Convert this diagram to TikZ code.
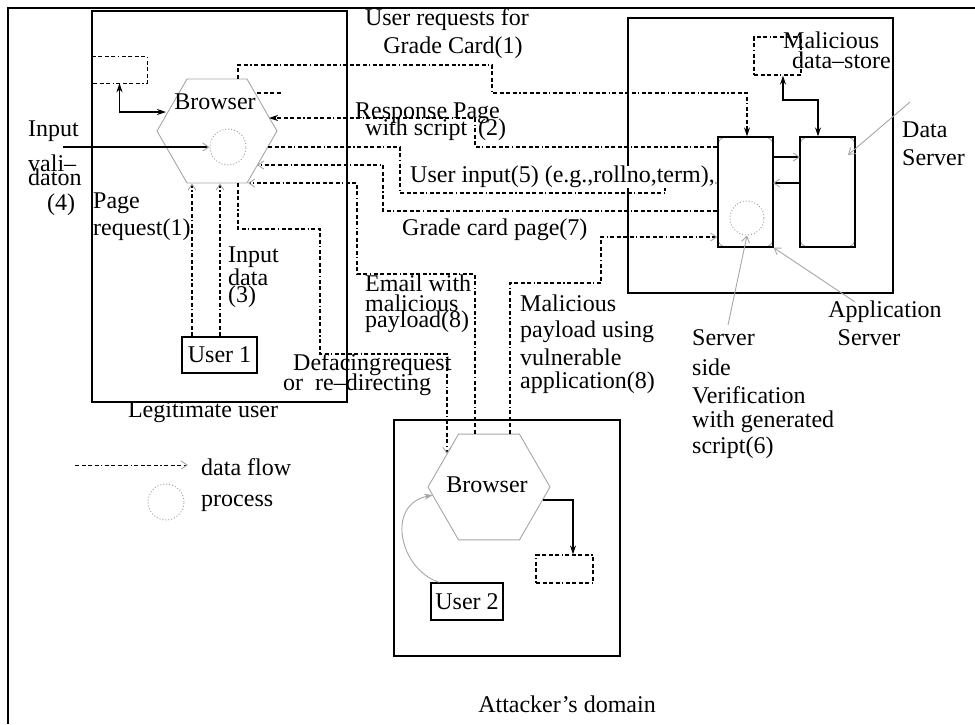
\documentclass[tikz,border=0pt]{standalone}
\usepackage{fontspec}
\setmainfont{Liberation Serif}
\usetikzlibrary{arrows.meta,shapes.geometric}
\begin{document}
\begin{tikzpicture}[x=1pt,y=-1pt,
  every node/.style={font=\fontsize{24}{27}\selectfont, inner sep=0pt},
  box/.style={draw, line width=1.3pt, rectangle},
  hexa/.style={draw=gray!70, line width=0.9pt, regular polygon, regular polygon sides=6, minimum size=#1},
  proc/.style={draw=gray!70, dotted, line width=1pt, circle, minimum size=36pt},
  flow/.style={line width=1.2pt, dash pattern=on 4pt off 2.5pt on 4pt off 2.5pt on 4pt off 2.5pt on 4pt off 2.5pt on 1.2pt off 2.5pt},
  barb/.style={-{Straight Barb[length=6pt,width=8pt,color=gray!70,line width=0.9pt]}},
  blk/.style={-{Stealth[length=9pt,width=6pt]}},
  pointer/.style={draw=gray!70, line width=0.9pt, -{Straight Barb[length=6pt,width=8pt,color=gray!70,line width=0.9pt]}},
  solidl/.style={line width=1.3pt}
]
\useasboundingbox (0,0) rectangle (975,724);
% outer frame
\draw[line width=1.5pt] (975,8) -- (8,8) -- (8,724);

% boxes
\node[box, minimum width=255pt, minimum height=391pt] (legit) at (219.5,206.5) {};
\node[box, minimum width=265pt, minimum height=275pt] (sdom) at (760.5,155.5) {};
\node[box, minimum width=226pt, minimum height=236pt] (adom) at (507,538) {};
\node[box, minimum width=75pt, minimum height=36pt] (user1) at (219.5,355) {User 1};
\node[box, minimum width=72pt, minimum height=37pt] (user2) at (467,601.5) {User 2};

% servers with rounded corners
\draw[gray!70, line width=0.9pt, rounded corners=8pt] (718,137) rectangle (773,247);
\draw[gray!70, line width=0.9pt, rounded corners=8pt] (800,137) rectangle (855,247);
\node[box, minimum width=55pt, minimum height=110pt] (app) at (745.5,192) {};
\node[box, minimum width=55pt, minimum height=110pt] (dsrv) at (827.5,192) {};
\node[proc, minimum size=34pt] (proc2) at (747,218) {};

% data stores
\node[minimum width=55pt, minimum height=26pt] (lbox) at (119.5,70) {};
\draw[flow] (lbox.north west) -- (lbox.north east) -- (lbox.south east) -- (lbox.south west);
\node[draw, flow, minimum width=47pt, minimum height=38pt] (dstore) at (777.5,56) {};
\node[draw, flow, minimum width=57pt, minimum height=28pt] (abox) at (564.5,569) {};

% browsers
\node[hexa=120pt] (hex1) at (217,131) {};
\node[hexa=122pt] (hex2) at (489,487) {};
\node[proc] (proc1) at (228,147) {};

% points on hexagon borders
\coordinate (h1a) at (166,112);
\coordinate (h1b) at (269,118);
\coordinate (h1c) at (268,147);
\coordinate (h1d) at (257,165);
\coordinate (h1e) at (248,183);
\coordinate (h2a) at (447,454);
\coordinate (h2b) at (543,500);
\coordinate (h2c) at (433,495);
\coordinate (ivstart) at (63,147);

% solid arrows
\draw[solidl, {Stealth[length=9pt,width=6pt]}-{Stealth[length=9pt,width=6pt]}] (lbox.south) |- (h1a);
\draw[solidl, {Stealth[length=9pt,width=6pt]}-{Stealth[length=9pt,width=6pt]}] (783,0 |- dstore.south) |- (818,100) -- (818,0 |- dsrv.north);
\draw[solidl, barb] (773,157) -- (800,157);
\draw[solidl, barb] (800,183) -- (773,183);
\draw[solidl, barb] (ivstart) -- (proc1.west);
\draw[solidl, blk] (h2b) -| (573,0 |- abox.north);
\draw[gray!70, line width=0.9pt, blk] (user2.north west) ++(9,0) .. controls (400,570) and (385,505) .. (h2c);

% data flows
\draw[flow, blk] (238,0 |- hex1.north) |- (492,65) |- (747,93) -- (747,0 |- app.north);
\draw[flow] (257,93) -- (282,93);
\draw[flow, blk] (app.west |- 0,147) -- (475,147) |- (h1b);
\draw[flow, barb] (h1c) -| (400,193) -| (665,183) -- (app.west |- 0,183);
\draw[flow, barb] (app.west |- 0,211) -| (383,165) -- (h1d);
\draw[flow, barb] (475,0 |- hex2.north) |- (357,274) |- (h1e);
\draw[flow, barb] (510,0 |- hex2.north) |- (601,283) |- (app.west |- 0,237);
\draw[flow, barb] (238,0 |- hex1.south) |- (320,229) |- (447,354) -- (h2a);
\draw[flow, barb] (192,0 |- user1.north) -- (192,0 |- hex1.south);
\draw[flow, barb] (220,0 |- user1.north) -- (220,0 |- hex1.south);

% pointers
\coordinate (dsl) at (910,102);
\coordinate (asl) at (855,302);
\coordinate (svl) at (728,325);
\draw[pointer] (dsl) -- (848,155);
\draw[pointer] (asl) -- (app.south east);
\draw[pointer] (svl) -- (proc2.south);

% legend
\coordinate (lg1) at (75,465);
\coordinate (lg2) at (188,465);
\draw[flow, barb, line width=1pt] (lg1) -- (lg2);
\node[proc] (lgproc) at (166,502) {};
\node[anchor=west] (tlg1) at (201,467) {data flow};
\node[anchor=west] (tlg2) at (201,503) {process};

% texts
\node (tb1) at (215,102) {Browser};
\node (tb2) at (487,485) {Browser};
\node (t1) at (447,20) {User requests for};
\node (t2) at (453,48) {Grade Card(1)};
\node[anchor=west] (t3) at (355,113) {Response Page};
\node[anchor=west] (t4) at (365,130) {with script};
\node[anchor=west] (t5) at (478,130) {(2)};
\node[anchor=west, fill=white] (t6) at (410,177) {User input(5) (e.g.,rollno,term),};
\node[anchor=west] (t7) at (402,230) {Grade card page(7)};
\node[anchor=west] (t8) at (365,283) {Email with};
\node[anchor=west] (t9) at (365,303) {malicious};
\node[anchor=west] (t10) at (365,322) {payload(8)};
\node[anchor=west] (t11) at (520,303) {Malicious};
\node[anchor=west] (t12) at (520,332) {payload using};
\node[anchor=west] (t13) at (520,357) {vulnerable};
\node[anchor=west] (t14) at (520,383) {application(8)};
\node[anchor=west] (t15) at (293,365) {Defacing\hspace{1pt}request};
\node[anchor=west] (t16) at (283,385) {or\hspace{12pt}re–directing};
\node[anchor=west] (t17) at (28,131) {Input};
\node[anchor=west] (t18) at (28,163) {vali–};
\node[anchor=west] (t19) at (28,177) {daton};
\node[anchor=west] (t20) at (47,205) {(4)};
\node[anchor=west] (t21) at (93,203) {Page};
\node[anchor=west] (t22) at (93,230) {request(1)};
\node[anchor=west] (t23) at (228,257) {Input};
\node[anchor=west] (t24) at (228,277) {data};
\node[anchor=west] (t25) at (228,297) {(3)};
\node (t26) at (203,412) {Legitimate user};
\node[anchor=west] (t27) at (783,40) {Malicious};
\node[anchor=west] (t28) at (792,60) {data–store};
\node[anchor=west] (t29) at (902,130) {Data};
\node[anchor=west] (t30) at (902,158) {Server};
\node (t31) at (885,312) {Application};
\node (t32) at (869,338) {Server};
\node[anchor=west] (t33) at (692,338) {Server};
\node[anchor=west] (t34) at (692,367) {side};
\node[anchor=west] (t35) at (692,395) {Verification};
\node[anchor=west] (t36) at (692,422) {with generated};
\node[anchor=west] (t37) at (692,448) {script(6)};
\node (t38) at (567,704) {Attacker’s domain};
\end{tikzpicture}
\end{document}
